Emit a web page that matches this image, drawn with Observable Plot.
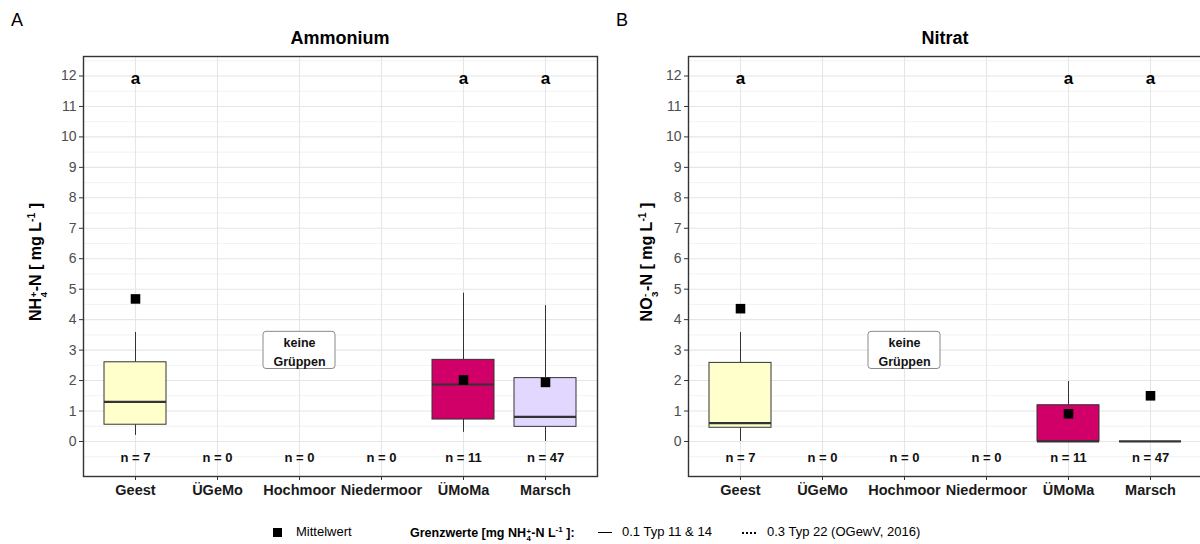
<!DOCTYPE html>
<html><head><meta charset="utf-8">
<script src="https://cdn.jsdelivr.net/npm/d3@7"></script>
<script src="https://cdn.jsdelivr.net/npm/@observablehq/plot@0.6"></script>
<style>
html,body{margin:0;padding:0;background:#fff;width:1200px;height:544px;overflow:hidden;font-family:"Liberation Sans",Arial,sans-serif;color:#000;}
#root{position:relative;width:1200px;height:544px;overflow:hidden;}
.abs{position:absolute;white-space:nowrap;}
.panel{position:absolute;top:0;}
.tag{font-size:18px;}
.title{font-size:18px;font-weight:bold;transform:translateX(-50%);}
.ylab{position:absolute;white-space:nowrap;transform:translate(-50%,-50%) rotate(-90deg);font-weight:bold;font-size:16px;}
.stack{display:inline-flex;flex-direction:column;font-size:0.62em;line-height:0.95;vertical-align:0.42em;text-align:left;margin:0 0.05em;}
.lg{font-size:13px;top:524px;line-height:16px;}
</style></head><body><div id="root"></div>
<script>
// ---------------- data ----------------
const categories = ["Geest", "ÜGeMo", "Hochmoor", "Niedermoor", "ÜMoMa", "Marsch"];
const counts = [7, 0, 0, 0, 11, 47];
const letters = ["a", "", "", "", "a", "a"];
const boxGroups = ["Geest", "ÜMoMa", "Marsch"];
const groupColors = ["#FFFFCC", "#D10068", "#E2D8FF"];

// Ammonium (NH4+-N)
const nh4Low    = [0.20, 0.30, 0.00];
const nh4Q1     = [0.55, 0.72, 0.48];
const nh4Median = [1.30, 1.87, 0.81];
const nh4Q3     = [2.60, 2.68, 2.08];
const nh4High   = [3.58, 4.87, 4.46];
const nh4Mean   = [4.68, 2.02, 1.94];

// Nitrat (NO3--N)
const no3Low    = [0.00, 0.00, 0.00];
const no3Q1     = [0.45, 0.00, 0.00];
const no3Median = [0.60, 0.00, 0.00];
const no3Q3     = [2.58, 1.19, 0.00];
const no3High   = [3.58, 1.97, 0.00];
const no3Mean   = [4.36, 0.91, 1.50];

const yTicks = [0, 1, 2, 3, 4, 5, 6, 7, 8, 9, 10, 11, 12];
const yMinor = [-0.5, 0.5, 1.5, 2.5, 3.5, 4.5, 5.5, 6.5, 7.5, 8.5, 9.5, 10.5, 11.5, 12.5];
const yDomain = [-1.15, 12.64];
const letterLevel = 11.92;
const countLevel = -0.55;
const noteCat = "Hochmoor";
const noteLevel = 2.99;
const noteText = "keine\nGrüppen";

// ---------------- chart ----------------
function table(lo, q1, med, q3, hi, mean) {
  return boxGroups.map((g, i) => ({cat: g, lo: lo[i], q1: q1[i], med: med[i], q3: q3[i], hi: hi[i], mean: mean[i]}));
}

function panel(stats, width, marginLeft, marginRight) {
  const letterData = categories.map((c, i) => ({cat: c, t: letters[i]})).filter(d => d.t);
  const countData = categories.map((c, i) => ({cat: c, t: `n = ${counts[i]}`}));
  const note = [{cat: noteCat, y: noteLevel, t: noteText}];
  return Plot.plot({
    width, height: 510,
    marginLeft, marginRight, marginTop: 56, marginBottom: 34,
    style: {fontFamily: "Liberation Sans, Arial, sans-serif", background: "transparent", overflow: "visible"},
    x: {type: "band", domain: categories, paddingInner: 0.25, paddingOuter: 0.225},
    y: {domain: yDomain},
    color: {domain: boxGroups, range: groupColors},
    marks: [
      Plot.gridY(yMinor, {stroke: "#ededed", strokeOpacity: 1, strokeWidth: 0.7}),
      Plot.gridY(yTicks, {stroke: "#e6e6e6", strokeOpacity: 1, strokeWidth: 1.1}),
      Plot.gridX({stroke: "#e6e6e6", strokeOpacity: 1, strokeWidth: 1.1}),
      Plot.ruleX(stats, {x: "cat", y1: "q3", y2: "hi", stroke: "#333", strokeWidth: 1}),
      Plot.ruleX(stats, {x: "cat", y1: "lo", y2: "q1", stroke: "#333", strokeWidth: 1}),
      Plot.barY(stats, {x: "cat", y1: "q1", y2: "q3", fill: "cat", stroke: "#333", strokeWidth: 1}),
      Plot.tickY(stats, {x: "cat", y: "med", stroke: "#333", strokeWidth: 2.2}),
      Plot.dot(stats, {x: "cat", y: "mean", symbol: "square", r: 5.4, fill: "#000", stroke: null}),
      Plot.text(letterData, {x: "cat", y: () => letterLevel, text: "t", fontSize: 17, fontWeight: "bold", fill: "#000"}),
      Plot.text(countData, {x: "cat", y: () => countLevel, text: "t", fontSize: 13, fontWeight: "bold", fill: "#111"}),
      Plot.barY(note, {x: "cat", y1: d => d.y - 0.61, y2: d => d.y + 0.61, fill: "#fff", stroke: "#8a8a8a", strokeWidth: 1, rx: 3, insetLeft: -5, insetRight: -5}),
      Plot.text(note, {x: "cat", y: "y", text: "t", fontSize: 12.5, fontWeight: "bold", lineHeight: 1.55, fill: "#111"}),
      Plot.axisY(yTicks, {tickSize: 4, tickPadding: 3, fontSize: 14, fill: "#4d4d4d", stroke: "#333", label: null}),
      Plot.axisX({tickSize: 4, tickPadding: 4, fontSize: 14.5, fontWeight: "bold", fill: "#1a1a1a", stroke: "#333", label: null}),
      Plot.frame({stroke: "#333", strokeWidth: 1.4})
    ]
  });
}

const root = document.getElementById("root");
function place(node, left, width) {
  const d = document.createElement("div");
  d.className = "panel";
  d.style.left = left + "px";
  d.style.width = width + "px";
  d.appendChild(node);
  root.appendChild(d);
}
place(panel(table(nh4Low, nh4Q1, nh4Median, nh4Q3, nh4High, nh4Mean), 600, 83, 3), 0, 600);
place(panel(table(no3Low, no3Q1, no3Median, no3Q3, no3High, no3Mean), 602, 88, 0), 600, 602);

const overlay = `
<div class="abs tag" style="left:11px;top:10px">A</div>
<div class="abs tag" style="left:616px;top:10px">B</div>
<div class="abs title" style="left:340px;top:28px">Ammonium</div>
<div class="abs title" style="left:945px;top:28px">Nitrat</div>
<div class="ylab" style="left:37px;top:262px">NH<span class="stack"><span>+</span><span>4</span></span>-N [ mg L<sup style="font-size:0.65em">-1</sup> ]</div>
<div class="ylab" style="left:648px;top:262px">NO<span class="stack"><span>-</span><span>3</span></span>-N [ mg L<sup style="font-size:0.65em">-1</sup> ]</div>
<div class="abs" style="left:273px;top:528px;width:9px;height:9px;background:#000"></div>
<div class="abs lg" style="left:296px">Mittelwert</div>
<div class="abs lg" style="left:410px;font-weight:bold;font-size:12.5px;top:522px">Grenzwerte [mg NH<span class="stack"><span>+</span><span>4</span></span>-N L<sup style="font-size:0.65em">-1</sup> ]:</div>
<div class="abs" style="left:598px;top:532px;width:14px;border-top:1.5px solid #000"></div>
<div class="abs lg" style="left:622px">0.1 Typ 11 &amp; 14</div>
<div class="abs" style="left:742px;top:532px;width:14px;border-top:2px dotted #000"></div>
<div class="abs lg" style="left:767px">0.3 Typ 22 (OGewV, 2016)</div>
`;
root.insertAdjacentHTML("beforeend", overlay);
</script>
</body></html>
